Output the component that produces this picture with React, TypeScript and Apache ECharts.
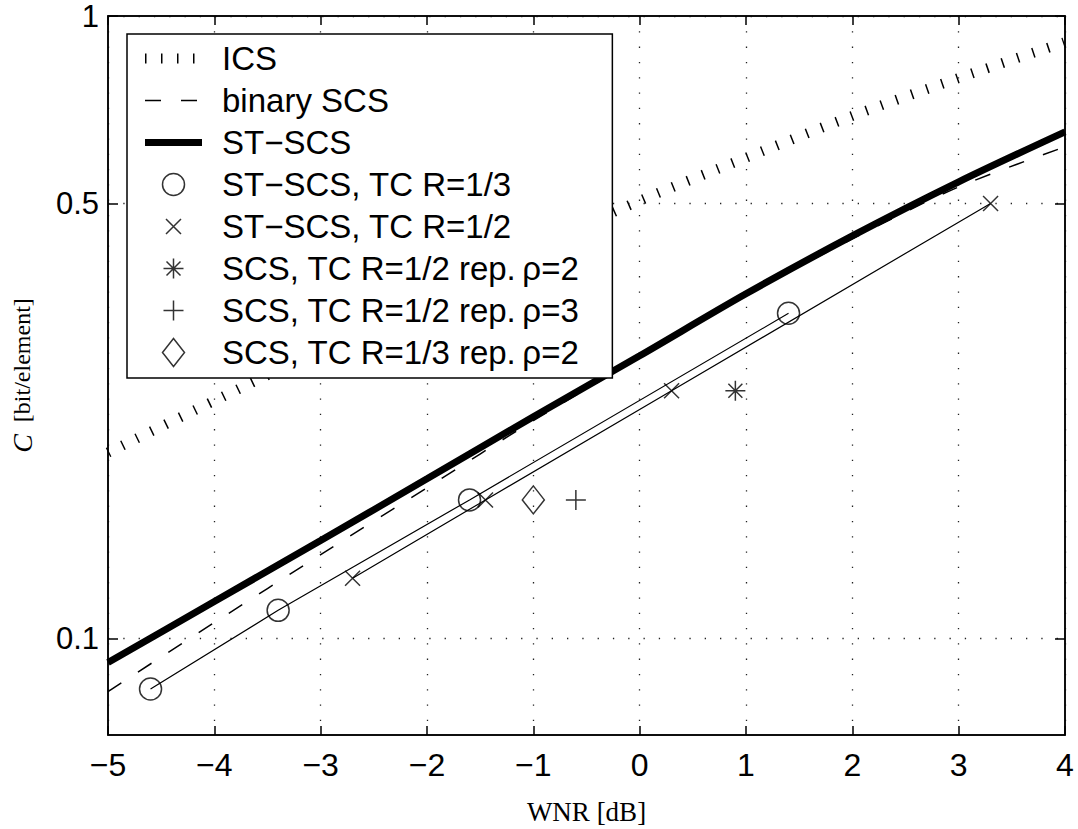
import React, { useEffect, useRef } from "react";
import * as echarts from "echarts";

// ---- data ----
const wnrGrid = [-5, -4, -3, -2, -1, 0, 1, 2, 3, 4];
const icsC = [0.199, 0.241, 0.291, 0.351, 0.423, 0.505, 0.592, 0.691, 0.795, 0.908];
const binaryScsC = [0.0822, 0.1061, 0.1364, 0.1747, 0.2239, 0.2825, 0.3552, 0.4386, 0.5315, 0.6164];
const stScsC = [0.0915, 0.1147, 0.1437, 0.1806, 0.2272, 0.2846, 0.3579, 0.4434, 0.5415, 0.6514];

const tc13Wnr = [-4.6, -3.4, -1.6, 1.4];
const tc13C = [0.083, 0.111, 0.167, 0.333];
const tc12Wnr = [-2.7, -1.45, 0.3, 3.3];
const tc12C = [0.125, 0.167, 0.25, 0.5];
const rep2Wnr = [0.9];
const rep2C = [0.25];
const rep3Wnr = [-0.6];
const rep3C = [0.167];
const rep13Wnr = [-1.0];
const rep13C = [0.167];

const yTickValues = [0.1, 0.5, 1];

const names = {
  ics: "ICS",
  bin: "binary SCS",
  st: "ST\u2212SCS",
  tc13: "ST\u2212SCS, TC R=1/3",
  tc12: "ST\u2212SCS, TC R=1/2",
  rep2: "SCS, TC R=1/2 rep.\u2009\u03c1=2",
  rep3: "SCS, TC R=1/2 rep.\u2009\u03c1=3",
  rep13: "SCS, TC R=1/3 rep.\u2009\u03c1=2",
};

// marker shapes in a common 28x28 box
const BOX = "M0 0M28 28";
const SYM_CIRCLE = "path://" + BOX + "M3 14A11 11 0 1 1 25 14A11 11 0 1 1 3 14Z";
const SYM_X = "path://" + BOX + "M6.5 6.5L21.5 21.5M21.5 6.5L6.5 21.5";
const SYM_STAR = "path://" + BOX + "M14 4L14 24M4 14L24 14M7 7L21 21M21 7L7 21";
const SYM_PLUS = "path://" + BOX + "M14 4L14 24M4 14L24 14";
const SYM_DIAMOND = "path://" + BOX + "M3 14L14 0L25 14L14 28Z";
const SYM_SIZE = 28;

const zip = (xs: number[], ys: number[]) => xs.map((x, i) => [x, ys[i]]);

const markerStyle = {
  color: "rgba(0,0,0,0)",
  borderColor: "#000",
  borderWidth: 1.5,
};
const hiddenSymbol = { opacity: 0, color: "rgba(0,0,0,0)", borderWidth: 0 };

export default function App() {
  const ref = useRef<HTMLDivElement>(null);
  useEffect(() => {
    if (!ref.current) return;
    const chart = echarts.init(ref.current, null, { renderer: "svg" });
    const sans = "Liberation Sans, Arial, Helvetica, sans-serif";
    const serif = "Liberation Serif, Times New Roman, serif";
    const icsLine = { color: "#000", width: 10, type: [1.5, 14.5], cap: "butt" };
    const binLine = { color: "#000", width: 1.5, type: [16, 20] };
    const stLine = { color: "#000", width: 7, type: "solid" };
    const scatter = (name: string, xs: number[], ys: number[], sym: string) => ({
      name,
      type: "scatter",
      data: zip(xs, ys),
      symbol: sym,
      symbolSize: SYM_SIZE,
      itemStyle: markerStyle,
      z: 5,
    });
    const dotted = { color: "#222", width: 1.3, type: [1.3, 14] };
    const option: any = {
      animation: false,
      backgroundColor: "#fff",
      grid: {
        left: 108,
        right: 13,
        top: 16,
        bottom: 94,
        show: true,
        borderColor: "#000",
        borderWidth: 1.5,
        backgroundColor: "transparent",
        outerBoundsMode: "none",
      },
      xAxis: [
        {
          type: "value",
          min: -5,
          max: 4,
          interval: 1,
          position: "bottom",
          axisLine: { show: true, onZero: false, lineStyle: { color: "#000", width: 1.5 } },
          axisTick: { show: true, inside: true, length: 9, lineStyle: { color: "#000", width: 1.5 } },
          axisLabel: {
            show: true,
            margin: 14,
            fontFamily: sans,
            fontSize: 32,
            color: "#000",
            formatter: (v: number) => (v < 0 ? "\u2212" + Math.abs(v) : String(v)),
          },
          splitLine: { show: true, lineStyle: dotted },
          name: "WNR [dB]",
          nameLocation: "middle",
          nameGap: 63,
          nameTextStyle: { fontFamily: serif, fontSize: 27, color: "#000" },
        },
        {
          type: "value",
          min: -5,
          max: 4,
          interval: 1,
          position: "top",
          axisLine: { show: true, onZero: false, lineStyle: { color: "#000", width: 1.5 } },
          axisTick: { show: true, inside: true, length: 9, lineStyle: { color: "#000", width: 1.5 } },
          axisLabel: { show: false },
          splitLine: { show: false },
        },
      ],
      yAxis: [
        {
          type: "log",
          logBase: 10,
          min: 0.07,
          max: 1,
          position: "left",
          axisLine: { show: true, onZero: false, lineStyle: { color: "#000", width: 1.5 } },
          axisTick: { show: true, inside: true, length: 10, customValues: yTickValues, lineStyle: { color: "#000", width: 1.5 } },
          axisLabel: {
            show: true,
            margin: 9,
            fontFamily: sans,
            fontSize: 31,
            color: "#000",
            customValues: yTickValues,
            formatter: (v: number) => String(Number(Number(v).toPrecision(3))),
          },
          splitLine: { show: true, customValues: yTickValues, lineStyle: dotted },
          minorTick: { show: false },
          name: "{i|C}  [bit/element]",
          nameLocation: "middle",
          nameGap: 72,
          nameTextStyle: {
            fontFamily: serif,
            fontSize: 24,
            color: "#000",
            rich: { i: { fontFamily: serif, fontStyle: "italic", fontSize: 28, color: "#000" } },
          },
        },
        {
          type: "log",
          logBase: 10,
          min: 0.07,
          max: 1,
          position: "right",
          axisLine: { show: true, onZero: false, lineStyle: { color: "#000", width: 1.5 } },
          axisTick: { show: true, inside: true, length: 10, customValues: yTickValues, lineStyle: { color: "#000", width: 1.5 } },
          axisLabel: { show: false },
          splitLine: { show: false },
        },
      ],
      legend: {
        show: true,
        orient: "vertical",
        left: 127,
        top: 34,
        padding: [8, 33, 9, 13],
        itemGap: 9,
        itemWidth: 57,
        itemHeight: SYM_SIZE,
        backgroundColor: "#fff",
        borderColor: "#000",
        borderWidth: 1.5,
        borderRadius: 0,
        z: 10,
        selectedMode: false,
        textStyle: { fontFamily: sans, fontSize: 33, color: "#000", padding: [0, 0, 0, 15] },
        data: [
          { name: names.ics, lineStyle: icsLine, itemStyle: hiddenSymbol },
          { name: names.bin, lineStyle: binLine, itemStyle: hiddenSymbol },
          { name: names.st, lineStyle: stLine, itemStyle: hiddenSymbol },
          { name: names.tc13, icon: SYM_CIRCLE, itemStyle: markerStyle },
          { name: names.tc12, icon: SYM_X, itemStyle: markerStyle },
          { name: names.rep2, icon: SYM_STAR, itemStyle: markerStyle },
          { name: names.rep3, icon: SYM_PLUS, itemStyle: markerStyle },
          { name: names.rep13, icon: SYM_DIAMOND, itemStyle: markerStyle },
        ],
      },
      series: [
        {
          name: names.ics,
          type: "line",
          data: zip(wnrGrid, icsC),
          symbol: "none",
          smooth: 0.3,
          lineStyle: icsLine,
          itemStyle: { color: "#000" },
          z: 3,
        },
        {
          name: names.bin,
          type: "line",
          data: zip(wnrGrid, binaryScsC),
          symbol: "none",
          smooth: 0.3,
          lineStyle: binLine,
          itemStyle: { color: "#000" },
          z: 3,
        },
        {
          name: names.st,
          type: "line",
          data: zip(wnrGrid, stScsC),
          symbol: "none",
          smooth: 0.3,
          lineStyle: stLine,
          itemStyle: { color: "#000" },
          z: 4,
        },
        {
          name: "tc13-line",
          type: "line",
          data: zip(tc13Wnr, tc13C),
          symbol: "none",
          lineStyle: { color: "#000", width: 1.2 },
          itemStyle: { color: "#000" },
          z: 4,
        },
        {
          name: "tc12-line",
          type: "line",
          data: zip(tc12Wnr, tc12C),
          symbol: "none",
          lineStyle: { color: "#000", width: 1.2 },
          itemStyle: { color: "#000" },
          z: 4,
        },
        scatter(names.tc13, tc13Wnr, tc13C, SYM_CIRCLE),
        scatter(names.tc12, tc12Wnr, tc12C, SYM_X),
        scatter(names.rep2, rep2Wnr, rep2C, SYM_STAR),
        scatter(names.rep3, rep3Wnr, rep3C, SYM_PLUS),
        scatter(names.rep13, rep13Wnr, rep13C, SYM_DIAMOND),
      ],
    };
    chart.setOption(option);
    return () => chart.dispose();
  }, []);
  return (
    <div
      ref={ref}
      style={{ position: "absolute", left: 0, top: 0, width: 1078, height: 829, background: "#fff" }}
    />
  );
}
